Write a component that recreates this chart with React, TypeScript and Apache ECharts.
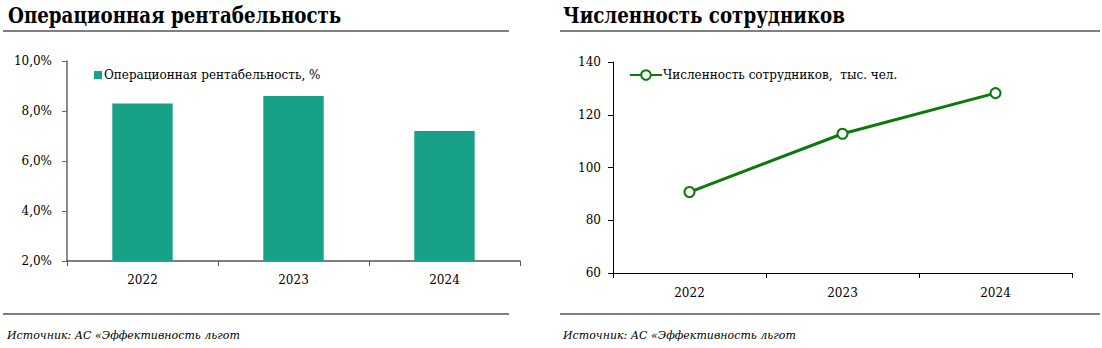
import React, { useEffect, useRef } from "react";
import * as echarts from "echarts";

const years = ["2022", "2023", "2024"];
const marginValues = [8.3, 8.6, 7.2];
const staffValues = [90.7, 112.8, 128.2];
const marginTicks = { min: 2, max: 10, interval: 2 };
const staffTicks = { min: 60, max: 140, interval: 20 };
const leftTitle = "Операционная рентабельность";
const rightTitle = "Численность сотрудников";
const marginName = "Операционная рентабельность, %";
const staffName = "Численность сотрудников,  тыс. чел.";
const sourceText = "Источник: АС «Эффективность льгот";

const FONT = "DejaVu Serif";

export default function App() {
  const ref = useRef<HTMLDivElement>(null);
  useEffect(() => {
    if (!ref.current) return;
    const chart = echarts.init(ref.current, undefined, { renderer: "svg" });
    const textStyle = { fontFamily: FONT, color: "#000", fontSize: 12 };
    chart.setOption({
      animation: false,
      textStyle: { fontFamily: FONT },
      grid: [
        { left: 67, right: 582, top: 61, bottom: 87 },
        { left: 613, right: 30, top: 62, bottom: 75 },
      ],
      legend: [
        {
          data: [marginName],
          left: 89,
          top: 64,
          icon: "rect",
          itemWidth: 8,
          itemHeight: 8,
          itemGap: 2,
          textStyle: { ...textStyle, padding: [0, 0, 0, -3] },
        },
        {
          data: [staffName],
          left: 624,
          top: 64,
          itemWidth: 32,
          itemHeight: 12,
          textStyle: { ...textStyle, padding: [0, 0, 0, -4] },
        },
      ],
      xAxis: [
        {
          type: "category",
          gridIndex: 0,
          data: years,
          axisLine: { lineStyle: { color: "#555", width: 1.5 } },
          axisTick: { show: true, length: 5, lineStyle: { color: "#555" } },
          axisLabel: { ...textStyle, margin: 13 },
        },
        {
          type: "category",
          gridIndex: 1,
          data: years,
          axisLine: { lineStyle: { color: "#000", width: 1 } },
          axisTick: { show: true, length: 5, lineStyle: { color: "#000" } },
          axisLabel: { ...textStyle, margin: 14 },
        },
      ],
      yAxis: [
        {
          type: "value",
          gridIndex: 0,
          ...marginTicks,
          axisLine: { show: true, lineStyle: { color: "#666", width: 1.5 } },
          axisTick: { show: true, length: 5, lineStyle: { color: "#666" } },
          splitLine: { show: false },
          axisLabel: {
            ...textStyle,
            margin: 15,
            formatter: (v: number) => v.toFixed(1).replace(".", ",") + "%",
          },
        },
        {
          type: "value",
          gridIndex: 1,
          ...staffTicks,
          axisLine: { show: true, lineStyle: { color: "#000", width: 1 } },
          axisTick: { show: true, length: 5, lineStyle: { color: "#000" } },
          splitLine: { show: false },
          axisLabel: { ...textStyle, margin: 12 },
        },
      ],
      series: [
        {
          name: marginName,
          type: "bar",
          xAxisIndex: 0,
          yAxisIndex: 0,
          data: marginValues,
          barCategoryGap: "60%",
          itemStyle: { color: "#17A287" },
        },
        {
          name: staffName,
          type: "line",
          xAxisIndex: 1,
          yAxisIndex: 1,
          data: staffValues,
          symbol: "circle",
          symbolSize: 10,
          lineStyle: { color: "#0B7A0B", width: 3 },
          itemStyle: { color: "#fff", borderColor: "#0B7A0B", borderWidth: 2 },
        },
      ],
      graphic: [
        {
          type: "text",
          x: 8,
          y: 4,
          scaleX: 0.83,
          style: { text: leftTitle, fontFamily: FONT, fontWeight: "bold", fontSize: 22, fill: "#000" },
        },
        {
          type: "line",
          shape: { x1: 3, y1: 31, x2: 509, y2: 31 },
          style: { stroke: "#7f7f7f", lineWidth: 2 },
        },
        {
          type: "text",
          x: 563,
          y: 4,
          scaleX: 0.83,
          style: { text: rightTitle, fontFamily: FONT, fontWeight: "bold", fontSize: 22, fill: "#000" },
        },
        {
          type: "line",
          shape: { x1: 560, y1: 31, x2: 1100, y2: 31 },
          style: { stroke: "#7f7f7f", lineWidth: 2 },
        },
        {
          type: "line",
          shape: { x1: 3, y1: 314, x2: 509, y2: 314 },
          style: { stroke: "#000", lineWidth: 1 },
        },
        {
          type: "line",
          shape: { x1: 560, y1: 314, x2: 1100, y2: 314 },
          style: { stroke: "#000", lineWidth: 1 },
        },
        {
          type: "text",
          left: 7,
          top: 330,
          style: { text: sourceText, fontFamily: FONT, fontStyle: "italic", fontSize: 11, fill: "#000" },
        },
        {
          type: "text",
          left: 563,
          top: 330,
          style: { text: sourceText, fontFamily: FONT, fontStyle: "italic", fontSize: 11, fill: "#000" },
        },
      ],
    });
    return () => chart.dispose();
  }, []);
  return (
    <div
      ref={ref}
      style={{ position: "absolute", left: 0, top: 0, width: 1102, height: 348, background: "#fff" }}
    />
  );
}
